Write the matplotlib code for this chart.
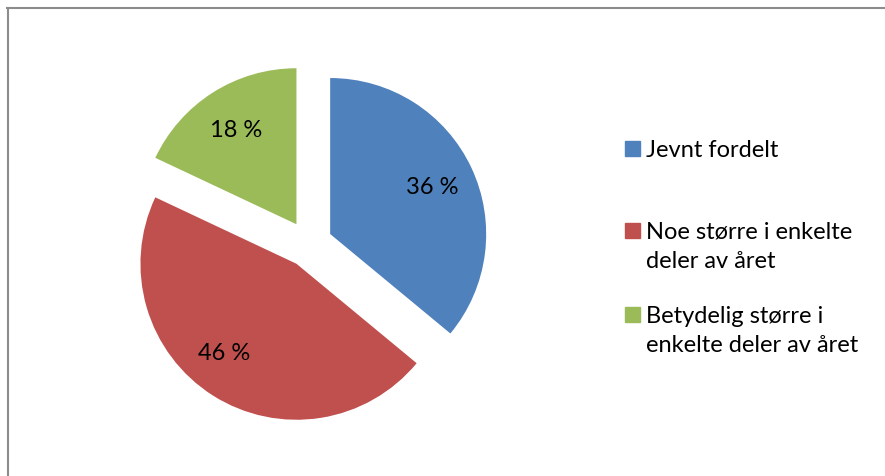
import numpy as np
import matplotlib.pyplot as plt
from matplotlib.patches import Rectangle
from matplotlib.lines import Line2D

labels = ['Jevnt fordelt', 'Noe større i enkelte\ndeler av året',
          'Betydelig større i\nenkelte deler av året']
shares = [36, 46, 18]
colors = ['#4F81BD', '#C0504D', '#9BBB59']

plt.rcParams['font.family'] = ['Lato', 'DejaVu Sans']

W, H = 885, 477
fig = plt.figure(figsize=(W / 100, H / 100), dpi=100)

# pie axes: centre at (309, 232) px, radius 156 px
R = 156.0
half = 200.0
cx, cy = 309.0, 232.0
ax = fig.add_axes([(cx - half) / W, (cy - half) / H, 2 * half / W, 2 * half / H])
wedges, texts, autotexts = ax.pie(
    shares, colors=colors, startangle=90, counterclock=False,
    explode=[0.15, 0.15, 0.15], autopct=lambda p: '{:.0f} %'.format(p),
    pctdistance=0.72, textprops=dict(fontsize=17, color='black'))
for w in wedges:
    w.set_linewidth(0)
# nudge the big slice's label a bit further round
x, y = autotexts[1].get_position()
autotexts[1].set_position((x - 0.08, y + 0.04))
ax.set_xlim(-half / R, half / R)
ax.set_ylim(-half / R, half / R)
ax.axis('off')

# legend drawn by hand so the squares line up with the first text line
leg_y = [149, 231, 315]
for lab, col, ly in zip(labels, colors, leg_y):
    fig.patches.append(Rectangle((625 / W, 1 - (ly + 7.5) / H), 15 / W, 15 / H,
                                 transform=fig.transFigure, color=col))
    fig.text(646 / W, 1 - (ly - 9) / H, lab, fontsize=17, va='top', ha='left',
             linespacing=1.45)

# outer frame (top and left edge only)
fig.lines.append(Line2D([7 / W, 1], [1 - 9 / H, 1 - 9 / H], transform=fig.transFigure,
                        color='#8c8c8c', lw=1.5))
fig.lines.append(Line2D([8 / W, 8 / W], [0, 1 - 9 / H], transform=fig.transFigure,
                        color='#8c8c8c', lw=1.5))

fig.savefig('out.png', dpi=100)
